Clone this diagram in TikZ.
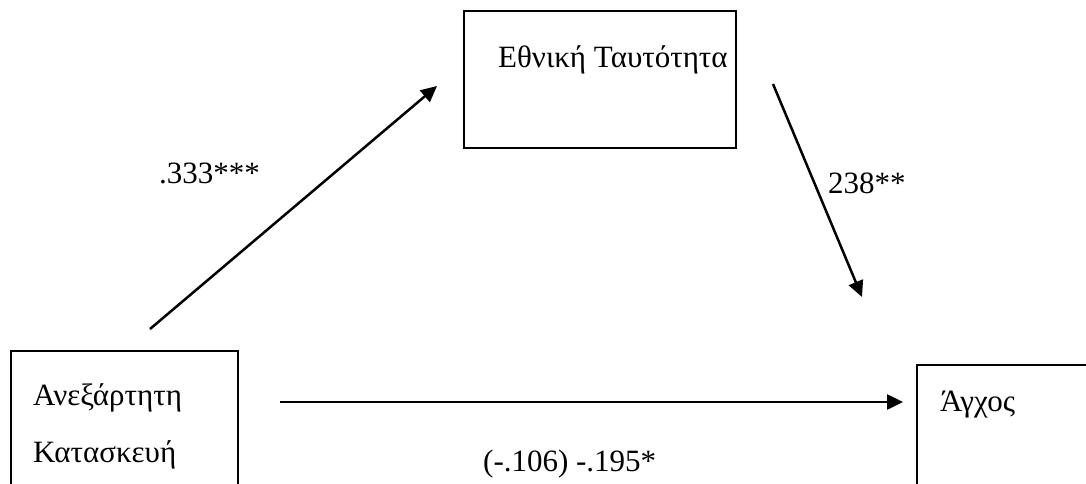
\documentclass[tikz,border=0pt]{standalone}
\usepackage{fontspec}
\setmainfont{Liberation Serif}
\usetikzlibrary{arrows.meta}
\begin{document}
\begin{tikzpicture}[x=1pt,y=-1pt,
  box/.style={draw=black, line width=1.8pt, inner sep=0pt, anchor=north west},
  lbl/.style={inner sep=0pt, anchor=base west, font=\fontsize{31}{36}\selectfont},
  path arrow/.style={line width=2.5pt, -{Triangle[length=16pt,width=15pt]}}]
  \useasboundingbox (0,0) rectangle (1086,484);
  \clip (0,0) rectangle (1086,484);
  \fill[white] (0,0) rectangle (1086,484);

  % variable boxes (the lower two run past the page edge)
  \node[box, minimum width=272pt, minimum height=137pt] (nat) at (463,10) {};
  \node[box, minimum width=227pt, minimum height=160pt] (ind) at (10,350) {};
  \node[box, minimum width=200pt, minimum height=160pt] (anx) at (916,364) {};

  % box texts
  \node[lbl] (natT) at (498,68) {Εθνική Ταυτότητα};
  \node[lbl] (indT1) at (33,405) {Ανεξάρτητη};
  \node[lbl] (indT2) at (33,462) {Κατασκευή};
  \node[lbl] (anxT) at (940,411) {Άγχος};

  % arrow end points
  \coordinate (a1s) at (150,329);
  \coordinate (a1e) at (437,86);
  \coordinate (a2s) at (773,84);
  \coordinate (a2e) at (862,297);
  \coordinate (a3s) at (280,402);
  \coordinate (a3e) at (903,402);

  \draw[path arrow] (a1s) -- (a1e);
  \draw[path arrow] (a2s) -- (a2e);
  \draw[path arrow] (a3s) -- (a3e);

  % path coefficients
  \node[lbl] (c1) at (159,183) {.333***};
  \node[lbl] (c2) at (828,193) {238**};
  \node[lbl] (c3) at (483,471) {(-.106) -.195*};
\end{tikzpicture}
\end{document}
